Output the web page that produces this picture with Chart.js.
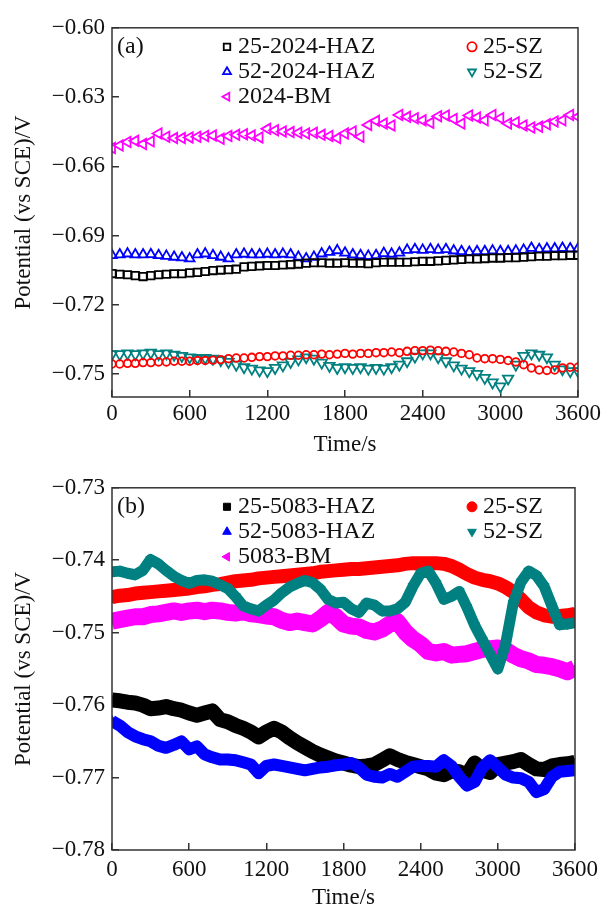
<!DOCTYPE html>
<html>
<head>
<meta charset="utf-8">
<script src="https://cdn.jsdelivr.net/npm/chart.js@4.4.1/dist/chart.umd.min.js"></script>
<style>
  html, body { margin: 0; padding: 0; background: #fff; overflow: hidden; }
  #boxA { position: absolute; left: 0; top: 0; width: 611px; height: 460px; }
  #boxB { position: absolute; left: 0; top: 460px; width: 611px; height: 452px; }
</style>
</head>
<body>
<div id="boxA"><canvas id="chartA"></canvas></div>
<div id="boxB"><canvas id="chartB"></canvas></div>
<script>
// time axis (s), one reading every 60 s
const times = [0, 60, 120, 180, 240, 300, 360, 420, 480, 540, 600, 660, 720, 780, 840, 900, 960, 1020, 1080, 1140,
  1200, 1260, 1320, 1380, 1440, 1500, 1560, 1620, 1680, 1740, 1800, 1860, 1920, 1980, 2040, 2100, 2160, 2220, 2280, 2340,
  2400, 2460, 2520, 2580, 2640, 2700, 2760, 2820, 2880, 2940, 3000, 3060, 3120, 3180, 3240, 3300, 3360, 3420, 3480, 3540, 3600];

const xTicks = [0, 600, 1200, 1800, 2400, 3000, 3600];
const yTicksA = [-0.75, -0.72, -0.69, -0.66, -0.63, -0.60];
const yTicksB = [-0.78, -0.77, -0.76, -0.75, -0.74, -0.73];

const labelsA = ['25-2024-HAZ', '25-SZ', '52-2024-HAZ', '52-SZ', '2024-BM'];
const labelsB = ['25-5083-HAZ', '25-SZ', '52-5083-HAZ', '52-SZ', '5083-BM'];

// panel (a)
const haz25A = [-0.7065, -0.7068, -0.7070, -0.7074, -0.7078, -0.7074, -0.7070, -0.7068, -0.7066, -0.7066,
  -0.7062, -0.7060, -0.7056, -0.7052, -0.7050, -0.7048, -0.7046, -0.7036, -0.7034, -0.7032,
  -0.7030, -0.7030, -0.7028, -0.7026, -0.7024, -0.7020, -0.7018, -0.7018, -0.7020, -0.7020,
  -0.7018, -0.7020, -0.7020, -0.7022, -0.7018, -0.7016, -0.7016, -0.7016, -0.7016, -0.7014,
  -0.7012, -0.7012, -0.7010, -0.7008, -0.7006, -0.7004, -0.7002, -0.7002, -0.7000, -0.6998,
  -0.6998, -0.6996, -0.6996, -0.6994, -0.6992, -0.6990, -0.6990, -0.6988, -0.6988, -0.6986, -0.6986];
const sz25A = [-0.7457, -0.7457, -0.7454, -0.7454, -0.7451, -0.7451, -0.7448, -0.7448, -0.7445, -0.7445,
  -0.7445, -0.7442, -0.7442, -0.7440, -0.7438, -0.7434, -0.7431, -0.7431, -0.7428, -0.7425,
  -0.7425, -0.7422, -0.7422, -0.7419, -0.7419, -0.7417, -0.7417, -0.7414, -0.7417, -0.7414,
  -0.7411, -0.7414, -0.7411, -0.7411, -0.7408, -0.7408, -0.7405, -0.7408, -0.7402, -0.7399,
  -0.7399, -0.7397, -0.7399, -0.7402, -0.7405, -0.7411, -0.7417, -0.7431, -0.7434, -0.7434,
  -0.7437, -0.7442, -0.7448, -0.7460, -0.7474, -0.7483, -0.7485, -0.7483, -0.7474, -0.7471, -0.7471];
const haz52A = [-0.6986, -0.6983, -0.6979, -0.6983, -0.6983, -0.6982, -0.6986, -0.6989, -0.6993, -0.6996,
  -0.7000, -0.6983, -0.6979, -0.6986, -0.6993, -0.7000, -0.6983, -0.6980, -0.6983, -0.6983,
  -0.6980, -0.6983, -0.6980, -0.6983, -0.6993, -0.7000, -0.6993, -0.6979, -0.6972, -0.6965,
  -0.6975, -0.6983, -0.6986, -0.6989, -0.6986, -0.6977, -0.6980, -0.6975, -0.6963, -0.6960,
  -0.6963, -0.6960, -0.6963, -0.6960, -0.6966, -0.6969, -0.6972, -0.6969, -0.6969, -0.6966,
  -0.6969, -0.6969, -0.6966, -0.6963, -0.6955, -0.6960, -0.6957, -0.6957, -0.6955, -0.6957, -0.6957];
const sz52A = [-0.7414, -0.7414, -0.7411, -0.7414, -0.7411, -0.7408, -0.7414, -0.7411, -0.7417, -0.7422,
  -0.7428, -0.7431, -0.7431, -0.7434, -0.7440, -0.7448, -0.7460, -0.7471, -0.7477, -0.7485,
  -0.7488, -0.7474, -0.7463, -0.7448, -0.7437, -0.7428, -0.7434, -0.7451, -0.7465, -0.7474,
  -0.7471, -0.7474, -0.7471, -0.7477, -0.7474, -0.7477, -0.7471, -0.7460, -0.7445, -0.7425,
  -0.7411, -0.7411, -0.7428, -0.7445, -0.7463, -0.7477, -0.7488, -0.7500, -0.7517, -0.7537,
  -0.7554, -0.7520, -0.7460, -0.7422, -0.7411, -0.7417, -0.7428, -0.7460, -0.7480, -0.7488, -0.7488];
const bm2024 = [-0.6521, -0.6510, -0.6495, -0.6490, -0.6504, -0.6492, -0.6458, -0.6472, -0.6478, -0.6478,
  -0.6475, -0.6472, -0.6469, -0.6467, -0.6481, -0.6469, -0.6464, -0.6461, -0.6467, -0.6475,
  -0.6438, -0.6444, -0.6449, -0.6452, -0.6455, -0.6458, -0.6455, -0.6464, -0.6469, -0.6478,
  -0.6458, -0.6449, -0.6472, -0.6421, -0.6403, -0.6415, -0.6423, -0.6378, -0.6386, -0.6392,
  -0.6401, -0.6412, -0.6383, -0.6380, -0.6395, -0.6415, -0.6380, -0.6389, -0.6401, -0.6378,
  -0.6392, -0.6415, -0.6409, -0.6423, -0.6432, -0.6429, -0.6418, -0.6406, -0.6401, -0.6378, -0.6386];

// panel (b)
const haz25B = [-0.7593, -0.7594, -0.7596, -0.7597, -0.7600, -0.7605, -0.7604, -0.7602, -0.7605, -0.7607,
  -0.7611, -0.7614, -0.7611, -0.7608, -0.7620, -0.7623, -0.7628, -0.7632, -0.7637, -0.7644,
  -0.7637, -0.7632, -0.7637, -0.7645, -0.7652, -0.7658, -0.7664, -0.7669, -0.7673, -0.7677,
  -0.7680, -0.7683, -0.7685, -0.7684, -0.7682, -0.7676, -0.7670, -0.7675, -0.7679, -0.7682,
  -0.7685, -0.7688, -0.7694, -0.7696, -0.7691, -0.7692, -0.7697, -0.7680, -0.7690, -0.7693,
  -0.7682, -0.7680, -0.7678, -0.7675, -0.7682, -0.7688, -0.7689, -0.7684, -0.7682, -0.7681, -0.7679];
const sz25B = [-0.7451, -0.7449, -0.7448, -0.7446, -0.7445, -0.7444, -0.7443, -0.7442, -0.7441, -0.7440,
  -0.7439, -0.7437, -0.7436, -0.7434, -0.7433, -0.7431, -0.7429, -0.7428, -0.7427, -0.7425,
  -0.7424, -0.7423, -0.7422, -0.7421, -0.7420, -0.7419, -0.7418, -0.7416, -0.7415, -0.7414,
  -0.7413, -0.7412, -0.7412, -0.7411, -0.7410, -0.7409, -0.7408, -0.7407, -0.7405, -0.7404,
  -0.7404, -0.7404, -0.7404, -0.7405, -0.7408, -0.7413, -0.7419, -0.7424, -0.7427, -0.7429,
  -0.7432, -0.7437, -0.7444, -0.7454, -0.7465, -0.7472, -0.7476, -0.7478, -0.7477, -0.7476, -0.7474];
const haz52B = [-0.7622, -0.7628, -0.7637, -0.7643, -0.7647, -0.7650, -0.7656, -0.7659, -0.7655, -0.7650,
  -0.7661, -0.7657, -0.7668, -0.7672, -0.7675, -0.7675, -0.7676, -0.7679, -0.7682, -0.7694,
  -0.7684, -0.7682, -0.7684, -0.7686, -0.7688, -0.7690, -0.7688, -0.7686, -0.7685, -0.7683,
  -0.7682, -0.7680, -0.7686, -0.7696, -0.7699, -0.7700, -0.7695, -0.7699, -0.7692, -0.7685,
  -0.7684, -0.7684, -0.7685, -0.7676, -0.7684, -0.7699, -0.7711, -0.7706, -0.7686, -0.7676,
  -0.7686, -0.7696, -0.7700, -0.7701, -0.7706, -0.7720, -0.7716, -0.7699, -0.7692, -0.7691, -0.7690];
const sz52B = [-0.7416, -0.7415, -0.7418, -0.7420, -0.7414, -0.7399, -0.7405, -0.7414, -0.7422, -0.7428,
  -0.7432, -0.7428, -0.7427, -0.7429, -0.7434, -0.7439, -0.7450, -0.7463, -0.7467, -0.7470,
  -0.7462, -0.7455, -0.7445, -0.7437, -0.7432, -0.7428, -0.7431, -0.7440, -0.7454, -0.7459,
  -0.7458, -0.7467, -0.7472, -0.7459, -0.7462, -0.7470, -0.7470, -0.7467, -0.7458, -0.7436,
  -0.7418, -0.7415, -0.7432, -0.7454, -0.7450, -0.7443, -0.7465, -0.7490, -0.7510, -0.7530,
  -0.7550, -0.7516, -0.7459, -0.7430, -0.7415, -0.7421, -0.7436, -0.7463, -0.7489, -0.7488, -0.7486];
const bm5083 = [-0.7484, -0.7482, -0.7480, -0.7478, -0.7478, -0.7475, -0.7474, -0.7472, -0.7470, -0.7472,
  -0.7470, -0.7469, -0.7471, -0.7469, -0.7470, -0.7472, -0.7473, -0.7471, -0.7474, -0.7475,
  -0.7477, -0.7478, -0.7483, -0.7486, -0.7484, -0.7486, -0.7488, -0.7481, -0.7472, -0.7478,
  -0.7488, -0.7491, -0.7492, -0.7497, -0.7499, -0.7495, -0.7488, -0.7485, -0.7499, -0.7509,
  -0.7516, -0.7526, -0.7528, -0.7526, -0.7531, -0.7530, -0.7529, -0.7526, -0.7523, -0.7522,
  -0.7521, -0.7524, -0.7531, -0.7536, -0.7539, -0.7544, -0.7545, -0.7547, -0.7550, -0.7554, -0.7549];

const FONT = '"Liberation Serif", "Times New Roman", serif';
const TEXT = '#111';

const toPoints = (ys) => times.map((t, i) => ({ x: t, y: ys[i] }));
const fmtV = (v) => (v < 0 ? '\u2212' : '') + Math.abs(v).toFixed(2);

// frame, panel letter and the two-column legend inside the plot
const panelPlugin = {
  id: 'panelDeco',
  afterDraw(chart, args, opts) {
    const { ctx, chartArea: a } = chart;
    ctx.save();
    ctx.strokeStyle = '#333';
    ctx.lineWidth = 1.5;
    ctx.strokeRect(a.left, a.top, a.right - a.left, a.bottom - a.top);

    ctx.font = '24px ' + FONT;
    ctx.textBaseline = 'middle';
    ctx.textAlign = 'left';
    ctx.fillStyle = TEXT;
    ctx.fillText(opts.panel, a.left + 5, a.top + opts.rows[0]);

    chart.data.datasets.forEach((ds, i) => {
      const slot = opts.slots[i];
      const x = opts.cols[slot[0]];
      const y = a.top + opts.rows[slot[1]];
      ctx.strokeStyle = ds.pointBorderColor;
      ctx.fillStyle = ds.pointBackgroundColor;
      ctx.lineWidth = ds.pointBorderWidth;
      Chart.helpers.drawPoint(ctx, {
        pointStyle: ds.pointStyle,
        rotation: ds.pointRotation || 0,
        radius: opts.markerRadius,
        borderWidth: ds.pointBorderWidth
      }, x, y);
      ctx.fillStyle = TEXT;
      ctx.fillText(ds.label, x + 11, y);
    });
    ctx.restore();
  }
};

const makeScales = (yMin, yMax, yTicks, xHeight, xPad, xTitlePad) => ({
  x: {
    type: 'linear',
    min: 0,
    max: 3600,
    afterBuildTicks: (s) => { s.ticks = xTicks.map((v) => ({ value: v })); },
    afterFit: (s) => { s.height = xHeight; },
    border: { display: false },
    grid: { drawOnChartArea: false, drawTicks: true, tickLength: -7, color: '#333', lineWidth: 1.5 },
    ticks: { color: TEXT, font: { family: FONT, size: 23 }, padding: xPad, maxRotation: 0, autoSkip: false, callback: (v) => String(v) },
    title: { display: true, text: 'Time/s', color: TEXT, font: { family: FONT, size: 23 }, padding: { top: 0, bottom: xTitlePad } }
  },
  y: {
    type: 'linear',
    min: yMin,
    max: yMax,
    afterBuildTicks: (s) => { s.ticks = yTicks.map((v) => ({ value: v })); },
    afterFit: (s) => { s.width = 112; },
    border: { display: false },
    grid: { drawOnChartArea: false, drawTicks: true, tickLength: -7, color: '#333', lineWidth: 1.5 },
    ticks: { color: TEXT, font: { family: FONT, size: 23 }, padding: 14, callback: (v) => fmtV(v) },
    title: { display: true, text: 'Potential (vs SCE)/V', color: TEXT, font: { family: FONT, size: 23 }, padding: { top: 10, bottom: 0 } }
  }
});

// hollow markers, no connecting line
const hollow = (label, ys, color, style, radius, rot) => ({
  label: label,
  data: toPoints(ys),
  showLine: false,
  pointStyle: style,
  pointRadius: radius,
  pointRotation: rot,
  pointBorderWidth: 1.8,
  pointBorderColor: color,
  pointBackgroundColor: 'rgba(0,0,0,0)',
  borderColor: color,
  clip: 0
});

// filled markers packed into a thick band
const filled = (label, ys, color, style, width, rot, order) => ({
  label: label,
  data: toPoints(ys),
  showLine: true,
  borderColor: color,
  borderWidth: width,
  borderJoinStyle: 'round',
  borderCapStyle: 'butt',
  tension: 0,
  pointStyle: style,
  pointRadius: 5.5,
  pointRotation: rot,
  pointBorderWidth: 1,
  pointBorderColor: color,
  pointBackgroundColor: color,
  order: order,
  clip: 0
});

const configA = {
  type: 'line',
  data: {
    datasets: [
      hollow(labelsA[0], haz25A, '#000000', 'rect', 5.2, 0),
      hollow(labelsA[1], sz25A, '#ff0000', 'circle', 3.8, 0),
      hollow(labelsA[2], haz52A, '#0000ff', 'triangle', 5.6, 0),
      hollow(labelsA[3], sz52A, '#008080', 'triangle', 6, 180),
      hollow(labelsA[4], bm2024, '#ff00ff', 'triangle', 6, -90)
    ]
  },
  options: {
    responsive: true,
    maintainAspectRatio: false,
    animation: false,
    layout: { padding: { top: 23, right: 31, left: 0, bottom: 0 } },
    scales: makeScales(-0.76, -0.60, yTicksA, 63, 10, 1),
    plugins: {
      legend: { display: false },
      tooltip: { enabled: false },
      panelDeco: { panel: '(a)', cols: [227, 472], rows: [19, 44, 69], slots: [[0, 0], [1, 0], [0, 1], [1, 1], [0, 2]], markerRadius: 4.6 }
    }
  },
  plugins: [panelPlugin]
};

const configB = {
  type: 'line',
  data: {
    datasets: [
      filled(labelsB[0], haz25B, '#000000', 'rect', 15, 0, 4),
      filled(labelsB[1], sz25B, '#ff0000', 'circle', 14, 0, 3),
      filled(labelsB[2], haz52B, '#0000ff', 'triangle', 12, 0, 2),
      filled(labelsB[3], sz52B, '#008080', 'triangle', 11, 180, 1),
      filled(labelsB[4], bm5083, '#ff00ff', 'triangle', 17, -90, 5)
    ]
  },
  options: {
    responsive: true,
    maintainAspectRatio: false,
    animation: false,
    layout: { padding: { top: 17, right: 31, left: 0, bottom: 0 } },
    scales: makeScales(-0.78, -0.73, yTicksB, 62, 13, 0),
    plugins: {
      legend: { display: false },
      tooltip: { enabled: false },
      panelDeco: { panel: '(b)', cols: [227, 472], rows: [19, 44, 69], slots: [[0, 0], [1, 0], [0, 1], [1, 1], [0, 2]], markerRadius: 5 }
    }
  },
  plugins: [panelPlugin]
};

const chartA = new Chart(document.getElementById('chartA'), configA);
const chartB = new Chart(document.getElementById('chartB'), configB);
</script>
</body>
</html>
